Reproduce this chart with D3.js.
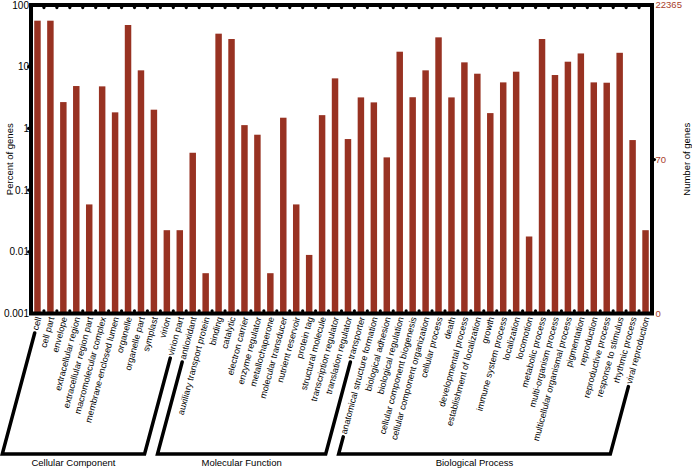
<!DOCTYPE html>
<html>
<head>
<meta charset="utf-8">
<script src="https://cdn.jsdelivr.net/npm/d3@7/dist/d3.min.js"></script>
<style>
  body { margin: 0; background: #fff; }
  text { font-family: "Liberation Sans", Arial, sans-serif; }
</style>
</head>
<body>
<svg id="chart"></svg>
<script>
// GO categories, per ontology
const groupNames = ["Cellular Component", "Molecular Function", "Biological Process"];

const ccTerms = ["cell", "cell part", "envelope", "extracellular region", "extracellular region part",
  "macromolecular complex", "membrane-enclosed lumen", "organelle", "organelle part", "symplast",
  "virion", "virion part"];
const ccPercent = [55.7, 55.7, 2.67, 4.86, 0.0586, 4.8, 1.82, 47.4, 8.73, 2.01, 0.0224, 0.0224];

const mfTerms = ["antioxidant", "auxiliary transport protein", "binding", "catalytic", "electron carrier",
  "enzyme regulator", "metallochaperone", "molecular transducer", "nutrient reservoir", "protein tag",
  "structural molecule", "transcription regulator", "translation regulator", "transporter"];
const mfPercent = [0.403, 0.0045, 34.3, 28.1, 1.13, 0.79, 0.0045, 1.49, 0.0586, 0.0089, 1.64, 6.47, 0.672, 3.18];

const bpTerms = ["anatomical structure formation", "biological adhesion", "biological regulation",
  "cellular component biogenesis", "cellular component organization", "cellular process", "death",
  "developmental process", "establishment of localization", "growth", "immune system process",
  "localization", "locomotion", "metabolic process", "multi-organism process",
  "multicellular organismal process", "pigmentation", "reproduction", "reproductive process",
  "response to stimulus", "rhythmic process", "viral reproduction"];
const bpPercent = [2.64, 0.339, 17.5, 3.2, 8.73, 29.9, 3.18, 11.76, 7.7, 1.77, 5.57, 8.3, 0.0177, 28.1,
  7.33, 12.05, 16.4, 5.57, 5.5, 16.8, 0.647, 0.0224];

const leftTicks = [100, 10, 1, 0.1, 0.01, 0.001];
const totalGenes = 22365;
const rightTicks = [0, 70, 22365];

class GoBarChart {
  margin = { top: 5, right: 40, bottom: 155, left: 31 }

  constructor(svg, width = 692, height = 468) {
    this.svg = d3.select(svg).attr("width", width).attr("height", height);
    this.width = width - this.margin.left - this.margin.right;
    this.height = height - this.margin.top - this.margin.bottom;
    this.barColor = "#983222";
    this.tickColor = "#a83d2b";
  }

  build() {
    const groups = [ccTerms, mfTerms, bpTerms];
    const values = [ccPercent, mfPercent, bpPercent];
    this.rows = [];
    groups.forEach((terms, g) => terms.forEach((t, i) => this.rows.push({ term: t, pct: values[g][i], group: g })));

    const L = this.margin.left, T = this.margin.top;
    const R = 652, B = 313.5;
    this.x = d3.scaleBand().domain(this.rows.map(d => d.term)).range([L, R]).paddingInner(0.5).paddingOuter(0.25);
    this.y = d3.scaleLog().domain([0.001, 100]).range([B, T]);
    this.yRight = d3.scaleLog().domain([totalGenes * 0.001 / 100, totalGenes]).range([B, T]);

    const svg = this.svg;
    const x = this.x, y = this.y;

    // bars
    svg.append("g").selectAll("rect")
      .data(this.rows)
      .join("rect")
      .attr("x", d => x(d.term))
      .attr("width", x.bandwidth())
      .attr("y", d => y(d.pct))
      .attr("height", d => B - y(d.pct))
      .attr("fill", this.barColor);

    // frame
    svg.append("rect")
      .attr("x", L).attr("y", T)
      .attr("width", R - L).attr("height", B - T)
      .attr("fill", "none").attr("stroke", "black").attr("stroke-width", 4);

    // band boundary ticks, top and bottom (inward dots)
    const step = x.step();
    const x0 = L;
    const bounds = d3.range(1, this.rows.length).map(k => x0 + k * step);
    const tickG = svg.append("g").attr("fill", "black");
    tickG.selectAll("circle.top").data(bounds).join("circle")
      .attr("class", "top").attr("cx", d => d).attr("cy", T + 2.6).attr("r", 1.6);
    tickG.selectAll("circle.bot").data(bounds).join("circle")
      .attr("class", "bot").attr("cx", d => d).attr("cy", B - 2.6).attr("r", 1.6);

    // left axis
    tickG.selectAll("circle.left").data(leftTicks.slice(1, -1)).join("circle")
      .attr("class", "left").attr("cx", L - 2.4).attr("cy", d => y(d)).attr("r", 1.6);
    svg.append("g").selectAll("text")
      .data(leftTicks).join("text")
      .attr("x", 29).attr("y", d => y(d))
      .attr("dy", "0.35em")
      .attr("text-anchor", "end")
      .style("font-size", "10px")
      .text(d => d);

    svg.append("text")
      .attr("transform", `translate(13, ${(T + B) / 2}) rotate(-90)`)
      .attr("text-anchor", "middle")
      .style("font-size", "9.5px")
      .text("Percent of genes");

    // right axis (number of genes)
    const yr = (v) => v === 0 ? B : this.yRight(v);
    tickG.selectAll("circle.right").data(rightTicks.filter(d => d > 0 && d < totalGenes)).join("circle")
      .attr("class", "right").attr("cx", R + 2.4).attr("cy", d => yr(d)).attr("r", 1.6);
    svg.append("g").selectAll("text")
      .data(rightTicks).join("text")
      .attr("x", R + 3.5).attr("y", d => yr(d))
      .attr("dy", "0.35em")
      .attr("fill", this.tickColor)
      .style("font-size", "9.5px")
      .text(d => d);

    svg.append("text")
      .attr("transform", `translate(690, ${(T + B) / 2}) rotate(-90)`)
      .attr("text-anchor", "middle")
      .style("font-size", "9.5px")
      .text("Number of genes");

    // category labels, rotated
    const ang = -75;
    const labelY = 317;
    const dir = [-Math.cos(ang * Math.PI / 180), -Math.sin(ang * Math.PI / 180)]; // down-left along text
    this.labels = svg.append("g").selectAll("text")
      .data(this.rows).join("text")
      .attr("transform", d => `translate(${x(d.term) + x.bandwidth() / 2 + 1}, ${labelY}) rotate(${ang})`)
      .attr("text-anchor", "end")
      .attr("dy", "0.35em")
      .style("font-size", "9px")
      .text(d => d.term);

    // group brackets
    const lens = {};
    this.labels.each(function (d) { lens[d.term] = this.getComputedTextLength(); });
    const baseY = 454;
    const legPoint = (term) => {
      const cx = x(term) + x.bandwidth() / 2 + 1.5;
      const s = lens[term] + 3;
      const sx = cx + dir[0] * s, sy = labelY + dir[1] * s;
      const t = (baseY - sy) / dir[1];
      return { top: [sx, sy], bottom: [sx + dir[0] * t, baseY] };
    };

    groups.forEach((terms, g) => {
      const a = legPoint(terms[0]);
      const b = legPoint(terms[terms.length - 1]);
      const path = d3.path();
      path.moveTo(a.top[0], a.top[1]);
      path.lineTo(a.bottom[0], a.bottom[1]);
      path.lineTo(b.bottom[0], b.bottom[1]);
      path.lineTo(b.top[0], b.top[1]);
      svg.append("path")
        .attr("d", path.toString())
        .attr("fill", "none")
        .attr("stroke", "black")
        .attr("stroke-width", 3.5)
        .attr("stroke-linecap", "round")
        .attr("stroke-linejoin", "miter");

      svg.append("text")
        .attr("x", (a.bottom[0] + b.bottom[0]) / 2)
        .attr("y", 465.5)
        .attr("text-anchor", "middle")
        .style("font-size", "9.5px")
        .text(groupNames[g]);
    });
  }
}

const chart = new GoBarChart(document.getElementById("chart"));
chart.build();
</script>
</body>
</html>
